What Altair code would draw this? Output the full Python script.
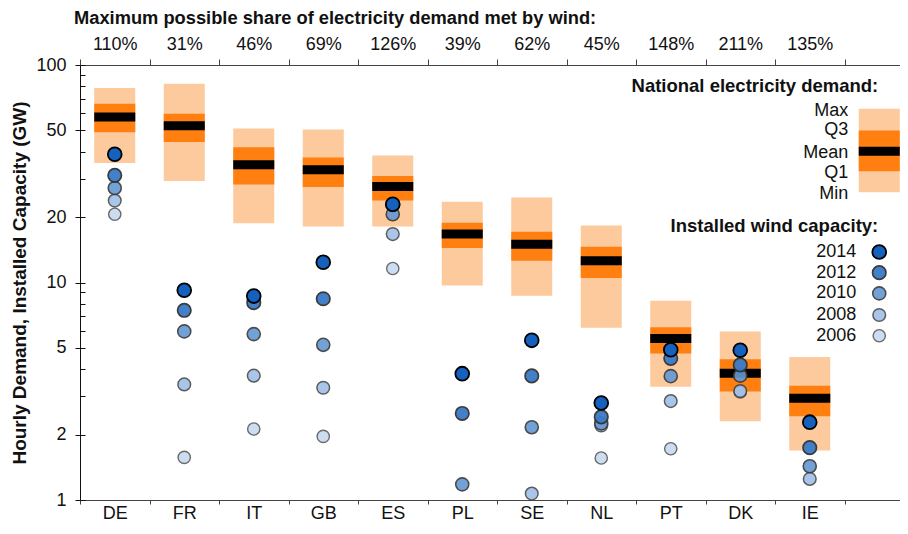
import json
import altair as alt
import pandas as pd

FONT = "Liberation Sans"

countries = ["DE", "FR", "IT", "GB", "ES", "PL", "SE", "NL", "PT", "DK", "IE"]
share_labels = ["110%", "31%", "46%", "69%", "126%", "39%", "62%", "45%", "148%", "211%", "135%"]

demand_min = [35.4, 29.3, 18.7, 18.1, 18.1, 9.7, 8.7, 6.2, 3.32, 2.30, 1.69]
demand_q1 = [49.1, 44.2, 28.2, 27.5, 23.8, 14.4, 12.6, 10.5, 4.71, 3.15, 2.43]
demand_mean = [57.7, 52.5, 34.8, 33.0, 27.6, 16.7, 15.0, 12.6, 5.53, 3.83, 2.94]
demand_q3 = [66.4, 59.7, 41.9, 37.6, 30.9, 18.8, 17.1, 14.6, 6.23, 4.44, 3.35]
demand_max = [78.3, 81.9, 51.0, 50.5, 38.4, 23.5, 24.6, 18.3, 8.25, 5.96, 4.55]

years = [2014, 2012, 2010, 2008, 2006]
wind_2014 = [38.9, 9.22, 8.66, 12.4, 22.9, 3.81, 5.42, 2.79, 4.91, 4.88, 2.28]
wind_2012 = [31.1, 7.45, 8.08, 8.42, 22.8, 2.50, 3.72, 2.41, 4.48, 4.18, 1.74]
wind_2010 = [27.2, 5.96, 5.79, 5.17, 20.6, 1.18, 2.16, 2.25, 3.71, 3.73, 1.43]
wind_2008 = [23.8, 3.40, 3.73, 3.28, 16.7, None, 1.07, 2.20, 2.85, 3.17, 1.25]
wind_2006 = [20.6, 1.57, 2.12, 1.96, 11.6, None, None, 1.56, 1.72, 3.14, None]

year_colors = ["#1461be", "#3a7bc8", "#6598d4", "#9cbde6", "#c3d6ef"]
year_strokes = ["#000000", "#333333", "#3a3a3a", "#444444", "#4a4a4a"]

# legend (drawn in the spare 12th slot)
legend_key = "LEG"
legend_box = [26.0, 32.5, 40.1, 50.0, 63.0]          # min, q1, mean, q3, max
legend_box_labels = ["Max", "Q3", "Mean", "Q1", "Min"]
legend_box_label_values = [61.6, 50.0, 39.6, 31.8, 25.5]
legend_year_values = [13.8, 11.1, 8.91, 7.09, 5.69]
legend_titles = ["National electricity demand:", "Installed wind capacity:"]
legend_title_values = [80.2, 18.2]

cats = countries + [legend_key]

demand = pd.DataFrame({
    "country": cats,
    "min": demand_min + [legend_box[0]],
    "q1": demand_q1 + [legend_box[1]],
    "mean": demand_mean + [legend_box[2]],
    "q3": demand_q3 + [legend_box[3]],
    "max": demand_max + [legend_box[4]],
})

wind = {2014: wind_2014, 2012: wind_2012, 2010: wind_2010, 2008: wind_2008, 2006: wind_2006}
rows = []
for y in years:
    for c, v in zip(countries, wind[y]):
        if v is not None:
            rows.append({"country": c, "year": y, "value": v})
for y, v in zip(years, legend_year_values):
    rows.append({"country": legend_key, "year": y, "value": v})
points = pd.DataFrame(rows)

box_labels = pd.DataFrame({"country": legend_key, "label": legend_box_labels, "value": legend_box_label_values})
year_labels = pd.DataFrame({"country": legend_key, "label": [str(y) for y in years], "value": legend_year_values})
title_labels = pd.DataFrame({"country": legend_key, "label": legend_titles, "value": legend_title_values})

W, H = 820, 435
BANDS_W = 834
xscale = alt.Scale(domain=cats, paddingInner=0, paddingOuter=0, range=[0, BANDS_W])
yscale = alt.Scale(type="log", domain=[1, 100], nice=False)

top_expr = "%s[indexof(%s, datum.value)]" % (json.dumps(share_labels + [""]), json.dumps(cats))

x_bottom = alt.X("country:N", scale=xscale, sort=cats, axis=alt.Axis(
    orient="bottom", title=None, labelAngle=0, tickBand="extent", tickSize=4,
    labelExpr="datum.value == 'LEG' ? '' : datum.value", labelPadding=0,
    labelFontSize=18, labelFont=FONT, labelColor="#111", tickColor="#444",
    domainColor="#444", labelFontWeight="normal"))
x_top = alt.X("country:N", scale=xscale, sort=cats, axis=alt.Axis(
    orient="top", title=None, labelAngle=0, tickBand="extent", tickSize=6,
    labelExpr=top_expr, labelPadding=6, labelFontSize=18, labelFont=FONT,
    labelColor="#111", tickColor="#444", domainColor="#444"))
x_none = alt.X("country:N", scale=xscale, sort=cats, axis=None)

left_axis = alt.Axis(
    orient="left", values=[1, 2, 5, 10, 20, 50, 100], format="d", tickSize=5,
    labelPadding=9, labelFontSize=18, labelFont=FONT, labelColor="#111",
    tickColor="#111", domainColor="#111", grid=False,
    title="Hourly Demand, Installed Capacity (GW)", titleFont=FONT,
    titleFontSize=19, titleFontWeight="bold", titleColor="#111", titlePadding=6)
inner_axis = alt.Axis(
    orient="right", offset=-W, values=[1, 2, 3, 4, 5, 6, 7, 8, 9, 10, 20, 30, 40, 50, 60, 70, 80, 90, 100],
    labels=False, domain=False, tickSize=5, tickColor="#111", grid=False, title=None)

light = alt.Chart(demand).mark_bar(width=alt.RelativeBandSize(0.59), color="#fdca9d").encode(
    x=x_bottom, y=alt.Y("min:Q", scale=yscale, axis=left_axis), y2="max:Q")
dark = alt.Chart(demand).mark_bar(width=alt.RelativeBandSize(0.59), color="#ff7f10").encode(
    x=x_top, y=alt.Y("q1:Q", scale=yscale, axis=inner_axis), y2="q3:Q")
mean = alt.Chart(demand).mark_tick(color="black", thickness=9, size=41, opacity=1).encode(
    x=x_none, y=alt.Y("mean:Q", scale=yscale, axis=None))

pts = alt.Chart(points).mark_circle().encode(
    x=x_none,
    y=alt.Y("value:Q", scale=yscale, axis=None),
    color=alt.Color("year:O", scale=alt.Scale(domain=years, range=year_colors), legend=None),
    stroke=alt.Stroke("year:O", scale=alt.Scale(domain=years, range=year_strokes), legend=None),
    size=alt.Size("year:O", scale=alt.Scale(domain=years, range=[190, 150, 100, 62, 36]), legend=None),
    strokeWidth=alt.StrokeWidth("year:O", scale=alt.Scale(domain=years, range=[1.8, 1.4, 1.3, 1.2, 1.1]), legend=None),
    opacity=alt.Opacity("year:O", scale=alt.Scale(domain=years, range=[1.0, 0.82, 0.82, 0.82, 0.82]), legend=None),
    order=alt.Order("year:Q", sort="ascending"),
)

txt_box = alt.Chart(box_labels).mark_text(align="right", baseline="middle", dx=-31, fontSize=18, font=FONT, color="#111").encode(
    x=x_none, y=alt.Y("value:Q", scale=yscale, axis=None), text="label:N")
txt_year = alt.Chart(year_labels).mark_text(align="right", baseline="middle", dx=-23, fontSize=18, font=FONT, color="#111").encode(
    x=x_none, y=alt.Y("value:Q", scale=yscale, axis=None), text="label:N")
txt_title = alt.Chart(title_labels).mark_text(align="right", baseline="middle", dx=-1, fontSize=18.5, font=FONT, fontWeight="bold", color="#111").encode(
    x=x_none, y=alt.Y("value:Q", scale=yscale, axis=None), text="label:N")

chart = alt.layer(light, dark, mean, pts, txt_box, txt_year, txt_title).resolve_axis(
    x="independent", y="independent"
).properties(
    width=W, height=H,
    autosize=alt.AutoSizeParams(type="none"),
    padding={"left": 72, "top": 57, "right": 0, "bottom": 26},
    title=alt.TitleParams("Maximum possible share of electricity demand met by wind:", anchor="start",
                          frame="group", fontSize=18.3, font=FONT, fontWeight="bold", color="#111",
                          dx=-6, offset=7),
).configure_view(stroke=None).configure_axis(grid=False)

chart.save("out.html", embed_options={"renderer": "svg", "actions": False})
